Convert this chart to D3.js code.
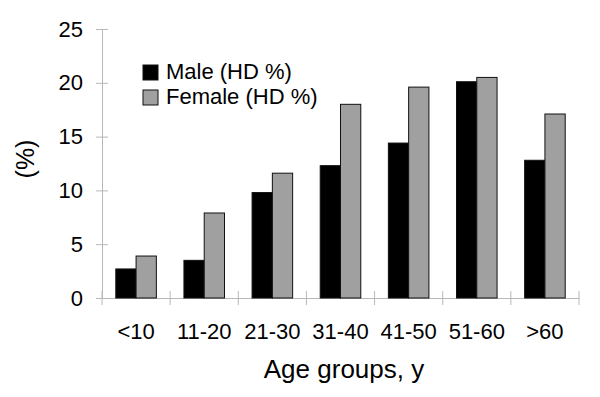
<!DOCTYPE html>
<html>
<head>
<meta charset="utf-8">
<script src="https://cdn.jsdelivr.net/npm/d3@7"></script>
<style>
  body { margin: 0; background: #fff; }
  text { font-family: "Liberation Sans", Arial, sans-serif; fill: #000; }
</style>
</head>
<body>
<div class="chart"></div>
<script>
const categories = ["<10", "11-20", "21-30", "31-40", "41-50", "51-60", ">60"];
const series = ["Male (HD %)", "Female (HD %)"];
const maleValues = [2.7, 3.5, 9.8, 12.3, 14.4, 20.1, 12.8];
const femaleValues = [3.9, 7.9, 11.6, 18.0, 19.6, 20.5, 17.1];
const yTicks = [0, 5, 10, 15, 20, 25];

const w = 600, h = 397;
const margin = { top: 29, right: 21, bottom: 99, left: 102 };
const colors = ["#000000", "#a0a0a0"];
const axisColor = "#b8b8b8";

const svg = d3.select(".chart").append("svg")
  .attr("width", w)
  .attr("height", h);

const x0 = d3.scaleBand()
  .domain(categories)
  .range([margin.left, w - margin.right])
  .padding(0);

const x1 = d3.scaleBand()
  .domain(series)
  .range([0, x0.bandwidth()])
  .paddingInner(0)
  .paddingOuter(0.68);

const y = d3.scaleLinear()
  .domain([0, 25])
  .range([h - margin.bottom, margin.top]);

const rows = categories.map((c, i) => ({ cat: c, vals: [maleValues[i], femaleValues[i]] }));

// y axis, ticks crossing the line
const yAxis = svg.append("g")
  .attr("transform", "translate(" + margin.left + ",0)")
  .call(d3.axisLeft(y).tickValues(yTicks).tickSize(6).tickSizeOuter(0).tickPadding(13));
yAxis.select(".domain").attr("stroke", axisColor);
yAxis.selectAll(".tick line").attr("stroke", axisColor).attr("x1", 6);
yAxis.selectAll(".tick text").style("font-size", "22px");

// x axis, labels centred, ticks at category boundaries
const xAxis = svg.append("g")
  .attr("transform", "translate(0," + y(0) + ")")
  .call(d3.axisBottom(x0).tickSize(0).tickPadding(25));
xAxis.select(".domain").attr("stroke", axisColor);
xAxis.selectAll(".tick text").style("font-size", "22px");

const bounds = categories.map(c => x0(c)).concat([x0.range()[1]]);
xAxis.selectAll(".bound")
  .data(bounds)
  .enter().append("line")
    .attr("class", "bound")
    .attr("x1", d => d).attr("x2", d => d)
    .attr("y1", -7).attr("y2", 7)
    .attr("stroke", axisColor);

// bars
svg.append("g")
  .selectAll("g")
  .data(rows)
  .enter().append("g")
    .attr("transform", d => "translate(" + x0(d.cat) + ",0)")
  .selectAll("rect")
  .data(d => d.vals.map((v, i) => ({ key: series[i], value: v, i: i })))
  .enter().append("rect")
    .attr("x", d => x1(d.key))
    .attr("y", d => y(d.value))
    .attr("width", x1.bandwidth())
    .attr("height", d => y(0) - y(d.value))
    .attr("fill", d => colors[d.i])
    .attr("stroke", "#111")
    .attr("stroke-width", 1);

// legend
const legend = svg.append("g")
  .attr("transform", "translate(143,65)")
  .selectAll("g")
  .data(series)
  .enter().append("g")
    .attr("transform", (d, i) => "translate(0," + i * 25 + ")");
legend.append("rect")
  .attr("width", 15).attr("height", 15)
  .attr("fill", (d, i) => colors[i])
  .attr("stroke", "#111");
legend.append("text")
  .attr("x", 23).attr("y", 14)
  .style("font-size", "22px")
  .text(d => d);

// axis titles
svg.append("text")
  .attr("x", 344).attr("y", 378)
  .attr("text-anchor", "middle")
  .style("font-size", "26px")
  .text("Age groups, y");

svg.append("text")
  .attr("transform", "translate(34,159) rotate(-90)")
  .attr("text-anchor", "middle")
  .style("font-size", "25px")
  .text("(%)");
</script>
</body>
</html>
